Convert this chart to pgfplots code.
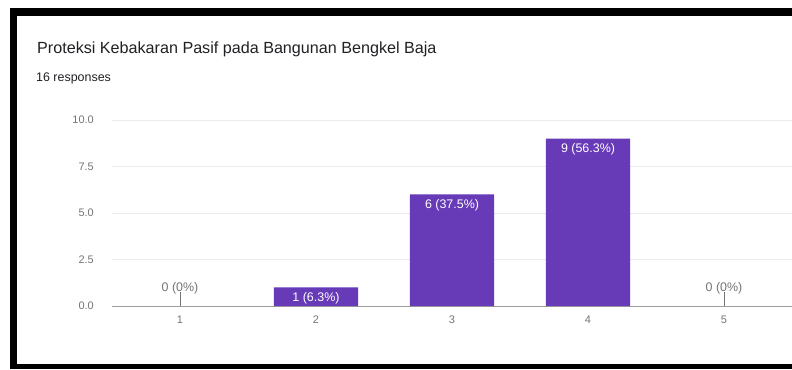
\documentclass[border=0pt]{standalone}
\usepackage{pgfplots}
\pgfplotsset{compat=1.18}
\usepackage{fontspec}
\setmainfont{Liberation Sans}
\definecolor{barpurple}{HTML}{673AB7}
\definecolor{titlecol}{HTML}{202124}
\definecolor{tickcol}{HTML}{757575}
\definecolor{gridcol}{HTML}{EBEBEB}
\definecolor{basecol}{HTML}{9E9E9E}
\begin{document}
\begin{tikzpicture}[x=1bp,y=1bp]
\useasboundingbox (0,0) rectangle (792,369);
\fill[white] (0,0) rectangle (792,369);
\node[anchor=base west, inner sep=0pt, text=titlecol, font=\fontsize{16.2}{19}\selectfont] at (37,315.7) {Proteksi Kebakaran Pasif pada Bangunan Bengkel Baja};
\node[anchor=base west, inner sep=0pt, text=titlecol, font=\fontsize{12.5}{14}\selectfont] at (36,287.5) {16 responses};
\begin{axis}[
  at={(112bp,63bp)}, anchor=south west,
  scale only axis, width=680bp, height=186bp,
  xmin=0.5, xmax=5.5, ymin=0, ymax=10,
  axis line style={draw=none},
  major tick length=0pt,
  /pgf/number format/assume math mode=true,
  xtick={1,2,3,4,5},
  xticklabels={1,2,3,4,5},
  ytick={0,2.5,5,7.5,10},
  yticklabels={0.0,2.5,5.0,7.5,10.0},
  ymajorgrids, grid style={gridcol, line width=0.8bp},
  extra y ticks={0}, extra y tick labels={},
  extra y tick style={grid style={basecol, line width=1bp}},
  yticklabel style={inner sep=0pt, anchor=east, xshift=-18bp, text=tickcol, font=\fontsize{11}{12}\selectfont},
  xticklabel style={inner sep=0pt, anchor=north, yshift=-10bp, text=tickcol, font=\fontsize{11}{12}\selectfont},
  clip=false,
]
\addplot[ybar, bar width=0.62, fill=barpurple, draw=none,
  nodes near coords, point meta=explicit symbolic,
  every node near coord/.append style={anchor=center, yshift=-10.5bp, text=white, font=\fontsize{12.5}{14}\selectfont}]
  coordinates {(2,1) [1 (6.3\%)] (3,6) [6 (37.5\%)] (4,9) [9 (56.3\%)]};
\addplot[draw=none, mark=none,
  nodes near coords, point meta=explicit symbolic,
  every node near coord/.append style={anchor=center, yshift=18bp, text=tickcol, font=\fontsize{12.5}{14}\selectfont}]
  coordinates {(1,0) [0 (0\%)] (5,0) [0 (0\%)]};
\draw[tickcol, line width=0.8bp] (axis cs:1,0) -- (axis cs:1,0.75);
\draw[tickcol, line width=0.8bp] (axis cs:5,0) -- (axis cs:5,0.75);
\end{axis}
\fill[black] (10,353) rectangle (792,361);
\fill[black] (10,0) rectangle (17,361);
\fill[black] (10,0) rectangle (792,5);
\end{tikzpicture}
\end{document}
